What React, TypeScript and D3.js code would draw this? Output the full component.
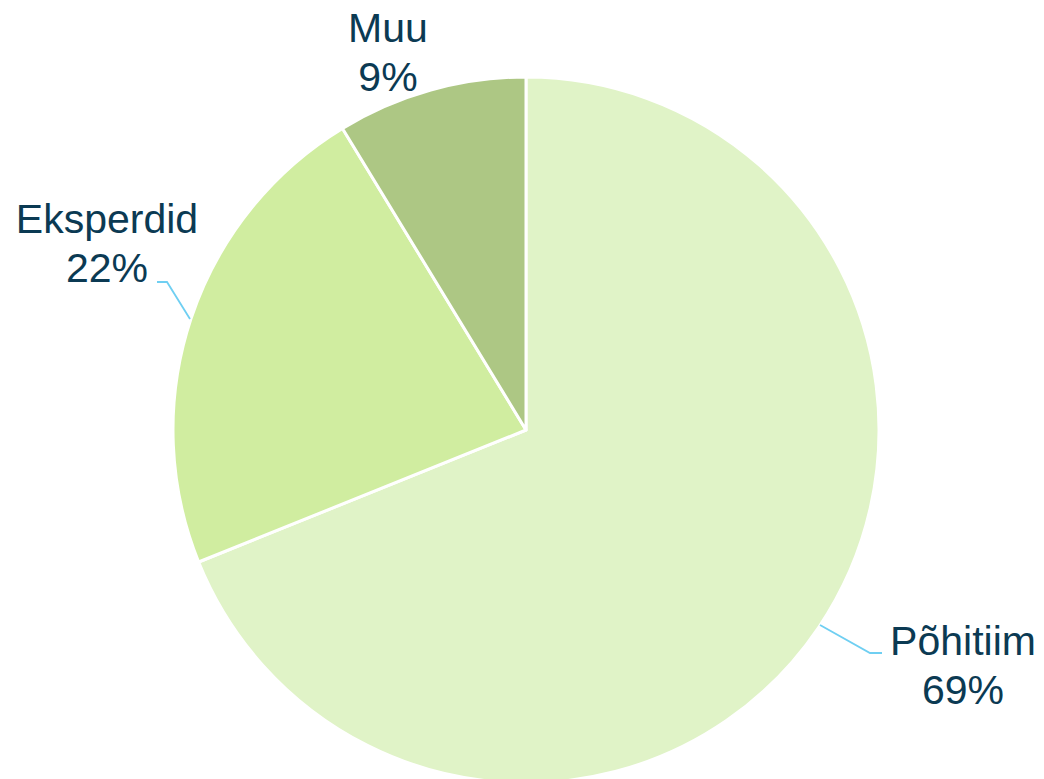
import React from "react";
import * as d3 from "d3";

const categories = ["Põhitiim", "Eksperdid", "Muu"];
const values = [68.9, 22.4, 8.7];
const colors = ["#E0F3C7", "#D0EDA0", "#ADC784"];

// label layout (center x, baseline y of first line) and leader lines
const labelPos: Record<string, { x: number; y: number }> = {
  "Põhitiim": { x: 963, y: 655 },
  "Eksperdid": { x: 107, y: 233 },
  "Muu": { x: 388, y: 42 },
};
const leaders: Record<string, [number, number][]> = {
  "Põhitiim": [[820, 625], [870, 653], [882, 653]],
  "Eksperdid": [[157, 282], [167, 282], [190, 319]],
  "Muu": [],
};

export default function App() {
  const W = 1044, H = 779;
  const cx = 526, cy = 430, r = 353;
  const pie = d3.pie<number>().sort(null).value((d) => d);
  const arcs = pie(values);
  const arc = d3.arc<d3.PieArcDatum<number>>().innerRadius(0).outerRadius(r);
  const line = d3.line();
  const textColor = "#0B3A53";
  const total = d3.sum(values);
  return (
    <svg
      width={W}
      height={H}
      style={{ position: "absolute", left: 0, top: 0, background: "#fff" }}
    >
      <g transform={`translate(${cx},${cy})`}>
        {arcs.map((a, i) => (
          <path
            key={categories[i]}
            d={arc(a) || ""}
            fill={colors[i]}
            stroke="#fff"
            strokeWidth={3}
            strokeLinejoin="round"
          />
        ))}
      </g>
      {categories.map((c) =>
        leaders[c].length ? (
          <path
            key={c + "l"}
            d={line(leaders[c]) || ""}
            fill="none"
            stroke="#6FCFF2"
            strokeWidth={1.8}
          />
        ) : null
      )}
      {categories.map((c, i) => (
        <text
          key={c + "t"}
          x={labelPos[c].x}
          y={labelPos[c].y}
          textAnchor="middle"
          fontFamily="'Liberation Sans', Arial, sans-serif"
          fontSize={41}
          fill={textColor}
        >
          <tspan x={labelPos[c].x}>{c}</tspan>
          <tspan x={labelPos[c].x} dy={49}>
            {Math.round((values[i] / total) * 100)}%
          </tspan>
        </text>
      ))}
    </svg>
  );
}
